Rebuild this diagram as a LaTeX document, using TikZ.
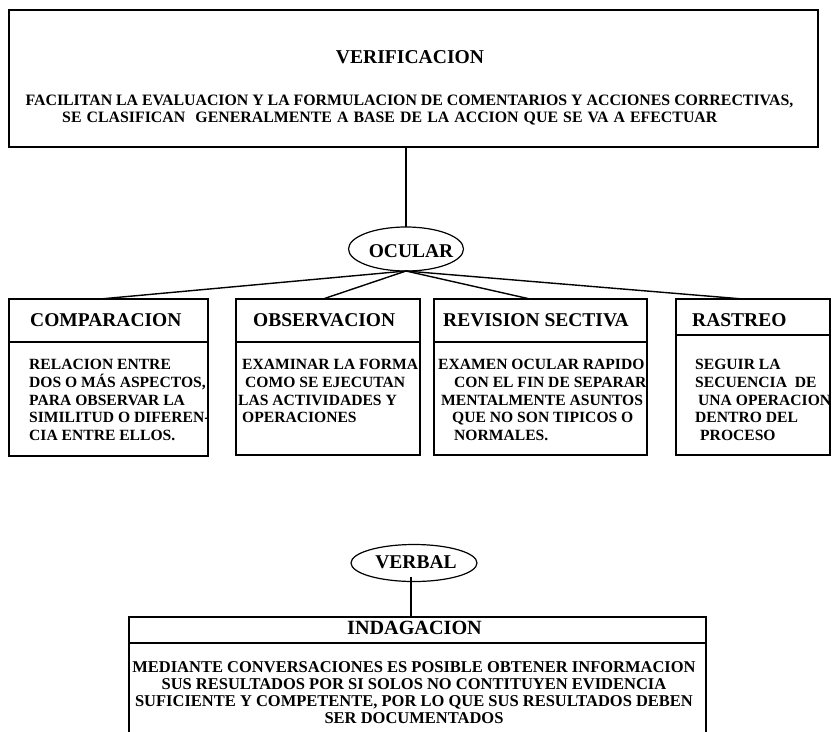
\documentclass[tikz,border=0pt]{standalone}
\usepackage{fontspec}
\setmainfont{Liberation Serif}
\usetikzlibrary{calc,shapes.geometric}

\tikzset{
  boxframe/.style={draw, line width=1.8pt, inner sep=0pt, outer sep=0pt, anchor=north west},
  thinframe/.style={draw, line width=1.1pt, inner sep=0pt, outer sep=0pt, anchor=north west},
  rule/.style={line width=1.8pt},
  thinrule/.style={line width=1.1pt},
  bubble/.style={draw, ellipse, line width=1.2pt, inner sep=0pt, outer sep=0pt},
  link/.style={line width=1.4pt},
  title/.style={font=\fontsize{19.5}{22}\selectfont\bfseries, inner sep=0pt, anchor=base west},
  bigtitle/.style={font=\fontsize{19.6}{22}\selectfont\bfseries, inner sep=0pt, anchor=base},
  lead/.style={font=\fontsize{15.85}{17}\selectfont\bfseries, inner sep=0pt, anchor=base},
  bodytext/.style={font=\fontsize{15.6}{17.8}\selectfont\bfseries, align=left, inner sep=0pt, anchor=north west},
  verbaltext/.style={font=\fontsize{16.5}{17}\selectfont\bfseries, align=center, inner sep=0pt, anchor=north},
}

\begin{document}
\begin{tikzpicture}[x=1pt, y=-1pt]
  \useasboundingbox (0,0) rectangle (832,731);
  \fill[white] (0,0) rectangle (832,731);
  \clip (0,0) rectangle (832,731);

  % main box
  \node[boxframe, minimum width=809pt, minimum height=137pt] (verif) at (9,10) {};
  \node[bigtitle] (verifTitle) at (410,63) {VERIFICACION};
  \node[lead] (verifLine1) at (409.5,105) {FACILITAN LA EVALUACION Y LA FORMULACION DE COMENTARIOS Y ACCIONES CORRECTIVAS,};
  \node[lead, anchor=base west] (verifLine2) at (62,122) {\spaceskip=5.1pt SE CLASIFICAN\ \ GENERALMENTE A BASE DE LA ACCION QUE SE VA A EFECTUAR};

  % ocular branch
  \node[bubble, minimum width=115pt, minimum height=44pt] (ocular) at (406,249) {};
  \node[title, anchor=base] (ocularText) at (411,257) {OCULAR};
  \draw[link] (ocular.north |- verif.south) -- (ocular.north);

  % four technique boxes
  \node[boxframe, minimum width=199pt, minimum height=157pt] (cmp) at (9,299) {};
  \node[boxframe, minimum width=184pt, minimum height=156pt] (obs) at (236,299) {};
  \node[boxframe, minimum width=213pt, minimum height=156pt] (rev) at (434,299) {};
  \node[boxframe, minimum width=154pt, minimum height=156pt] (ras) at (676,299) {};

  \draw[rule] (cmp.west |- 0,342) -- (cmp.east |- 0,342);
  \draw[rule] (obs.west |- 0,342) -- (obs.east |- 0,342);
  \draw[rule] (rev.west |- 0,342) -- (rev.east |- 0,342);
  \draw[rule] (ras.west |- 0,335) -- (ras.east |- 0,335);

  \node[title] (cmpTitle) at (30,326) {COMPARACION};
  \node[title] (obsTitle) at (253,326) {OBSERVACION};
  \node[title] (revTitle) at (443,326) {REVISION SECTIVA};
  \node[title] (rasTitle) at (692,326) {RASTREO};

  \node[bodytext] (cmpText) at (29,359) {RELACION ENTRE\\DOS O MÁS ASPECTOS,\\PARA OBSERVAR LA\\SIMILITUD O DIFEREN-\\CIA ENTRE ELLOS.};
  \node[bodytext] (obsText) at (238,359) {\hspace*{4pt}EXAMINAR LA FORMA\\\hspace*{7pt}COMO SE EJECUTAN\\LAS ACTIVIDADES Y\\\hspace*{4pt}OPERACIONES};
  \node[bodytext] (revText) at (438,359) {EXAMEN OCULAR RAPIDO\\\hspace*{16pt}CON EL FIN DE SEPARAR\\\hspace*{3pt}MENTALMENTE ASUNTOS\\\hspace*{14pt}QUE NO SON TIPICOS O\\\hspace*{16pt}NORMALES.};
  \node[bodytext] (rasText) at (695,359) {SEGUIR LA\\SECUENCIA\ \ DE\\\hspace*{3pt}UNA OPERACION\\DENTRO DEL\\\hspace*{5pt}PROCESO};

  \draw[link] (ocular.south) -- ($(cmp.north west)+(91,0)$);
  \draw[link] (ocular.south) -- ($(obs.north west)+(87,0)$);
  \draw[link] (ocular.south) -- ($(rev.north west)+(96,0)$);
  \draw[link] (ocular.south) -- ($(ras.north west)+(67,0)$);

  % verbal branch
  \node[bubble, minimum width=126pt, minimum height=37pt] (verbal) at (414,563) {};
  \node[title, anchor=base] (verbalText) at (416,568) {VERBAL};

  \node[thinframe, minimum width=577pt, minimum height=130pt] (indag) at (129,617) {};
  \draw[thinrule] (indag.west |- 0,643) -- (indag.east |- 0,643);
  \node[title, anchor=base, font=\fontsize{20.2}{22}\selectfont\bfseries] (indagTitle) at (414.5,634) {INDAGACION};
  \node[verbaltext] (indagText) at (414,661) {MEDIANTE CONVERSACIONES ES POSIBLE OBTENER INFORMACION\\SUS RESULTADOS POR SI SOLOS NO CONTITUYEN EVIDENCIA\\SUFICIENTE Y COMPETENTE, POR LO QUE SUS RESULTADOS DEBEN\\SER DOCUMENTADOS};

  \draw[thinrule] ($(verbal.south)+(-3,-5)$) -- ($(indag.north west)+(282,0)$);
\end{tikzpicture}
\end{document}
